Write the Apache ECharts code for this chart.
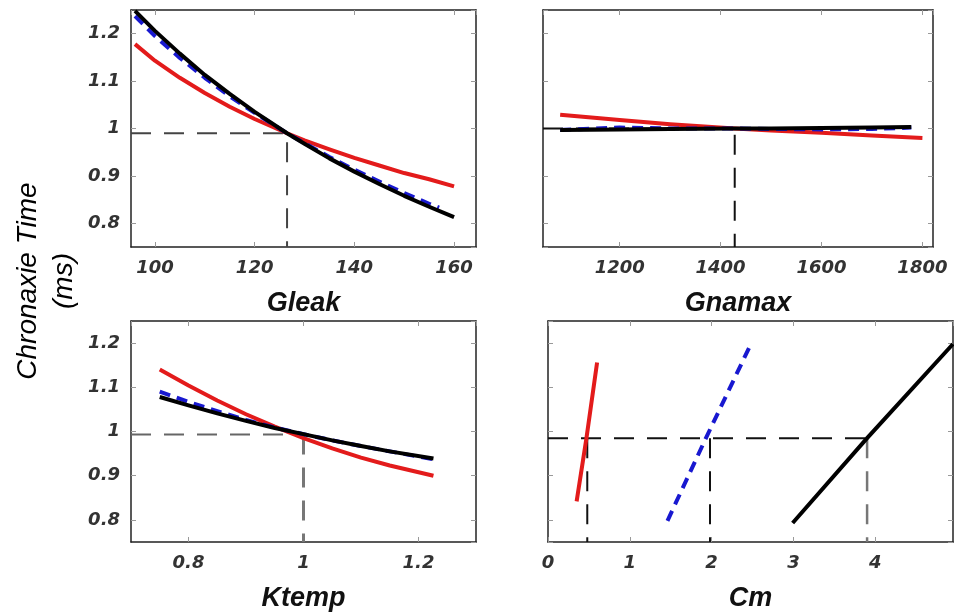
<!DOCTYPE html>
<html><head><meta charset="utf-8">
<script src="https://cdn.jsdelivr.net/npm/echarts@6/dist/echarts.min.js"></script>
<style>html,body{margin:0;padding:0;background:#fff}#c{width:954px;height:613px}</style>
</head><body><div id="c"></div>
<script>
// ---- data ----
const gleakX      = [96, 100, 105, 110, 115, 120, 126.5, 130, 135, 140, 145, 150, 155, 160];
const gleakRed    = [1.178, 1.143, 1.107, 1.075, 1.046, 1.020, 0.990, 0.975, 0.956, 0.938, 0.922, 0.906, 0.893, 0.878];
const gleakBlack  = [1.248, 1.206, 1.158, 1.113, 1.073, 1.035, 0.990, 0.968, 0.937, 0.909, 0.883, 0.858, 0.835, 0.813];
const gleakBlueX  = [96, 100, 105, 110, 115, 120, 126.5, 130, 135, 140, 145, 150, 155, 157];
const gleakBlue   = [1.237, 1.195, 1.149, 1.107, 1.068, 1.033, 0.990, 0.969, 0.940, 0.913, 0.888, 0.864, 0.841, 0.833];

const gnamaxRedX   = [1082, 1200, 1300, 1428, 1500, 1600, 1700, 1800];
const gnamaxRed    = [1.029, 1.018, 1.009, 1.000, 0.996, 0.991, 0.985, 0.980];
const gnamaxBlackX = [1082, 1200, 1300, 1428, 1500, 1600, 1700, 1778];
const gnamaxBlack  = [0.997, 0.998, 0.999, 1.000, 1.000, 1.001, 1.002, 1.003];
const gnamaxBlue   = [0.997, 1.002, 1.000, 1.000, 0.999, 0.998, 0.999, 1.002];

const ktempX     = [0.75, 0.8, 0.85, 0.9, 0.95, 1.0, 1.05, 1.1, 1.15, 1.226];
const ktempRed   = [1.140, 1.104, 1.070, 1.039, 1.011, 0.985, 0.962, 0.941, 0.923, 0.900];
const ktempBlack = [1.078, 1.059, 1.041, 1.024, 1.008, 0.994, 0.980, 0.967, 0.955, 0.939];
const ktempBlue  = [1.090, 1.067, 1.046, 1.026, 1.009, 0.994, 0.980, 0.967, 0.955, 0.937];

const cmRedX   = [0.35, 0.47, 0.6];
const cmRed    = [0.842, 0.985, 1.156];
const cmBlueX  = [1.46, 1.93, 2.48];
const cmBlue   = [0.798, 0.985, 1.198];
const cmBlackX = [2.99, 3.9, 4.95];
const cmBlack  = [0.793, 0.985, 1.198];

// nominal values (dashed guides)
const gleakNominal = 126.5,  gleakLevel = 0.99;
const gnamaxNominal = 1428,  gnamaxLevel = 1.0;
const ktempNominal = 1.0,    ktempLevel = 0.993;
const cmNominals = [0.48, 1.98, 3.9], cmLevel = 0.985;

// axis ranges
const xRanges = [[95.2, 164.4], [1048, 1821], [0.7, 1.3], [0, 4.95]];
const xSplits = [3, 4, 3, 5];
const xNames  = ['Gleak', 'Gnamax', 'Ktemp', 'Cm'];
const yRange  = [0.75, 1.25];
const yTitle  = 'Chronaxie Time\n(ms)';

// ---- layout ----
const grids = [
  {left:131, top:10,  width:345, height:237},
  {left:543, top:10,  width:390, height:237},
  {left:131, top:321, width:345, height:228},
  {left:548, top:321, width:405, height:229}
];
const RED = '#e31b1b', BLUE = '#1818d0', BLACK = '#000';
const tickFont = {fontFamily:'DejaVu Sans', fontStyle:'italic', fontWeight:'bold', fontSize:18, color:'#333'};
const plain = v => String(Math.round(v * 1000) / 1000);

const zip = (xs, ys) => xs.map((x, i) => [x, ys[i]]);

const xAxis = [], yAxis = [];
grids.forEach((g, i) => {
  const common = {gridIndex:i, type:'value', min:xRanges[i][0], max:xRanges[i][1], splitNumber:xSplits[i],
    splitLine:{show:false},
    axisLine:{show:true, onZero:false, lineStyle:{color:'#222', width:1.5}},
    axisTick:{show:true, inside:true, length:5, lineStyle:{color:'#999'}}};
  xAxis.push(Object.assign({}, common, {position:'bottom',
    name:xNames[i], nameLocation:'middle', nameGap:43,
    nameTextStyle:{fontFamily:'Liberation Sans', fontStyle:'italic', fontWeight:'bold', fontSize:27, color:'#111'},
    axisLabel:Object.assign({show:true, margin:12, formatter:plain, showMinLabel: i===3, showMaxLabel:false}, tickFont)}));
  xAxis.push(Object.assign({}, common, {position:'top', axisLabel:{show:false}}));
  const yc = {gridIndex:i, type:'value', min:yRange[0], max:yRange[1], splitNumber:5,
    splitLine:{show:false},
    axisLine:{show:true, onZero:false, lineStyle:{color:'#222', width:1.5}},
    axisTick:{show:true, inside:true, length:5, lineStyle:{color:'#999'}}};
  yAxis.push(Object.assign({}, yc, {position:'left',
    axisLabel:Object.assign({show: i % 2 === 0, margin:11, formatter:plain, showMinLabel:false, showMaxLabel:false}, tickFont)}));
  yAxis.push(Object.assign({}, yc, {position:'right', axisLabel:{show:false}}));
});

const series = [];
function curve(i, data, color, dashed) {
  series.push({type:'line', xAxisIndex:2*i, yAxisIndex:2*i, data, showSymbol:false, symbol:'none',
    smooth:false, silent:true, clip:true,
    lineStyle:{color, width:4, type: dashed ? [11, 7] : 'solid', cap:'butt', join:'round'}, z:3});
}
function guide(i, pts, color, width) {
  series.push({type:'line', xAxisIndex:2*i, yAxisIndex:2*i, data:pts, showSymbol:false, symbol:'none',
    silent:true, lineStyle:{color, width, type:[20, 13]}, z:2});
}
// guides
guide(0, [[xRanges[0][0], gleakLevel], [gleakNominal, gleakLevel], [gleakNominal, yRange[0]]], '#444', 2);
guide(1, [[xRanges[1][0], gnamaxLevel], [gnamaxNominal, gnamaxLevel], [gnamaxNominal, yRange[0]]], '#111', 2);
guide(2, [[xRanges[2][0], ktempLevel], [ktempNominal, ktempLevel]], '#666', 2);
guide(2, [[ktempNominal, ktempLevel], [ktempNominal, yRange[0]]], '#777', 3);
guide(3, [[xRanges[3][0], cmLevel], [cmNominals[2], cmLevel]], '#111', 2);
guide(3, [[cmNominals[0], cmLevel], [cmNominals[0], yRange[0]]], '#111', 2);
guide(3, [[cmNominals[1], cmLevel], [cmNominals[1], yRange[0]]], '#111', 2);
guide(3, [[cmNominals[2], cmLevel], [cmNominals[2], yRange[0]]], '#777', 2.5);

curve(0, zip(gleakX, gleakRed), RED);
curve(0, zip(gleakBlueX, gleakBlue), BLUE, true);
curve(0, zip(gleakX, gleakBlack), BLACK);
curve(1, zip(gnamaxRedX, gnamaxRed), RED);
curve(1, zip(gnamaxBlackX, gnamaxBlue), BLUE, true);
curve(1, zip(gnamaxBlackX, gnamaxBlack), BLACK);
curve(2, zip(ktempX, ktempRed), RED);
curve(2, zip(ktempX, ktempBlue), BLUE, true);
curve(2, zip(ktempX, ktempBlack), BLACK);
curve(3, zip(cmRedX, cmRed), RED);
curve(3, zip(cmBlueX, cmBlue), BLUE, true);
curve(3, zip(cmBlackX, cmBlack), BLACK);

const chart = echarts.init(document.getElementById('c'), null, {renderer:'canvas'});
chart.setOption({
  animation:false,
  backgroundColor:'#fff',
  grid: grids,
  xAxis, yAxis, series,
  graphic:[{type:'text', x:46, y:281, rotation:Math.PI/2,
    style:{text:yTitle, fontFamily:'Liberation Sans', fontStyle:'italic', fontSize:28, lineHeight:36,
      fill:'#000', textAlign:'center', textVerticalAlign:'middle'}}]
});
</script></body></html>
